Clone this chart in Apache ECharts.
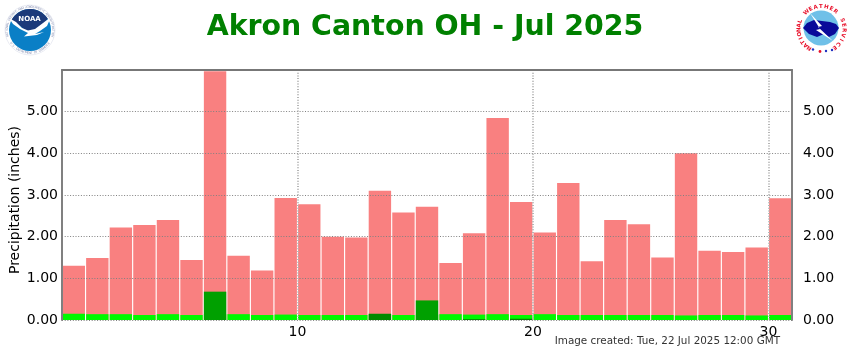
<!DOCTYPE html>
<html>
<head>
<meta charset="utf-8">
<title>Akron Canton OH - Jul 2025</title>
<script src="https://cdn.jsdelivr.net/npm/echarts@6/dist/echarts.min.js"></script>
<style>
  html, body { margin: 0; padding: 0; background: #fff; }
  #chart { width: 850px; height: 350px; }
</style>
</head>
<body>
<div id="chart"></div>
<script>
var days = [1,2,3,4,5,6,7,8,9,10,11,12,13,14,15,16,17,18,19,20,21,22,23,24,25,26,27,28,29,30,31];
// record / highest daily values (pink)
var recordVals = [1.30,1.49,2.22,2.28,2.40,1.44,5.97,1.54,1.19,2.93,2.78,2.00,1.98,3.10,2.58,2.72,1.37,2.08,4.85,2.83,2.10,3.29,1.41,2.40,2.30,1.50,4.00,1.66,1.63,1.74,2.92];
// normal (bright green)
var normalVals = [0.15,0.14,0.14,0.12,0.14,0.12,0.14,0.14,0.12,0.13,0.12,0.12,0.12,0.13,0.12,0.13,0.14,0.13,0.14,0.12,0.14,0.12,0.12,0.12,0.12,0.12,0.11,0.12,0.12,0.11,0.12];
// observed (dark green)
var observedVals = [0,0,0,0,0,0,0.68,0,0,0,0,0,0,0.15,0,0.47,0,0.02,0,0.03,0,0,0,0,0,0,0,0,0,0,0];
var dayTicks = [10,20,30];

var fontName = '"DejaVu Sans", Verdana, sans-serif';
var myChart = echarts.init(document.getElementById('chart'), null, { renderer: 'canvas' });

function toPoints(vals) {
    return vals.map(function (v, i) { return [days[i] - 0.5, v]; });
}

// letters set around a circle, for the two logos
function ringText(str, cx, cy, r, startDeg, endDeg, color, size, weight) {
    var out = [];
    for (var i = 0; i < str.length; i++) {
        var deg = startDeg + (endDeg - startDeg) * i / (str.length - 1);
        var a = deg * Math.PI / 180;
        var flip = endDeg < startDeg;
        out.push({
            type: 'text',
            x: cx + r * Math.sin(a),
            y: cy - r * Math.cos(a),
            rotation: flip ? -a + Math.PI : -a,
            style: { text: str[i], fill: color, font: weight + ' ' + size + 'px ' + fontName, textAlign: 'center', textVerticalAlign: 'middle' }
        });
    }
    return out;
}

// points along a circle arc, clockwise degrees from the top
function arcPts(cx, cy, r, fromDeg, toDeg) {
    var pts = [];
    for (var d = fromDeg; d <= toDeg; d += 6) {
        var a = d * Math.PI / 180;
        pts.push([cx + r * Math.sin(a), cy - r * Math.cos(a)]);
    }
    return pts;
}

var noaaLogo = [
    { type: 'circle', shape: { cx: 30, cy: 30, r: 25 }, style: { fill: '#fff', stroke: '#d5d9e6', lineWidth: 0.5 } },
    { type: 'circle', shape: { cx: 30, cy: 30, r: 21 }, style: { fill: '#0a7fc6' } },
    { type: 'polygon', shape: { points: arcPts(30, 30, 21, -62, 62).concat([[44, 23], [37, 29], [31, 31], [25, 30], [18, 24]]) }, style: { fill: '#1c3a7a' } },
    { type: 'polygon', shape: { points: [[9, 18], [16, 22], [22, 28], [28, 30.5], [35, 29], [43, 23], [51, 17], [47, 26], [40, 31], [35, 34], [44, 32], [37, 35], [24, 36.5], [28, 33], [20, 29], [13, 24]] }, style: { fill: '#fff' } },
    { type: 'text', x: 29.5, y: 19.5, style: { text: 'NOAA', fill: '#fff', font: 'bold 7px ' + fontName, textAlign: 'center', textVerticalAlign: 'middle' } }
].concat(
    ringText('NATIONAL OCEANIC AND ATMOSPHERIC ADMINISTRATION', 30, 30, 23, -105, 105, '#8a93b5', 3, 'normal'),
    ringText('U.S. DEPARTMENT OF COMMERCE', 30, 30, 23, 235, 125, '#8a93b5', 3, 'normal')
);

var nwsLogo = [
    { type: 'circle', shape: { cx: 821, cy: 28, r: 17.5 }, style: { fill: '#6fc0e8' } },
    { type: 'polygon', shape: { points: [[803, 28], [807, 23], [814, 20], [822, 21], [830, 22], [836, 24], [839, 28], [835, 34], [829, 37], [824, 34], [817, 37], [809, 34]] }, style: { fill: '#0a0a9a' } },
    { type: 'polygon', shape: { points: [[810, 13], [822, 26], [818, 27], [833, 41], [816, 30], [820, 29]] }, style: { fill: '#fff' } }
].concat(
    ringText('NATIONAL', 821.5, 29, 22.5, -147, -70, '#e8102a', 5.5, 'bold'),
    ringText('WEATHER', 821.5, 29, 22.5, -42, 39, '#e8102a', 5.5, 'bold'),
    ringText('SERVICE', 821.5, 29, 22.5, 67, 145, '#e8102a', 5.5, 'bold'),
    [
        { type: 'circle', shape: { cx: 813, cy: 49.5, r: 1.2 }, style: { fill: '#2030c0' } },
        { type: 'circle', shape: { cx: 826, cy: 51, r: 1.2 }, style: { fill: '#2030c0' } },
        { type: 'circle', shape: { cx: 820, cy: 51.5, r: 1.4 }, style: { fill: '#e8102a' } },
        { type: 'circle', shape: { cx: 832, cy: 50, r: 1.2 }, style: { fill: '#2030c0' } }
    ]
);

var option = {
    animation: false,
    backgroundColor: '#fff',
    title: {
        text: 'Akron Canton OH - Jul 2025',
        left: 'center',
        top: 9,
        textStyle: { color: '#008000', fontFamily: fontName, fontSize: 28.4, fontWeight: 'bold' }
    },
    grid: { left: 62, right: 58, top: 70, bottom: 30, outerBoundsMode: 'none' },
    graphic: noaaLogo.concat(nwsLogo, [
        { type: 'text', x: 15, y: 200, rotation: Math.PI / 2, style: { text: 'Precipitation (inches)', fill: '#000', font: '14px ' + fontName, textAlign: 'center', textVerticalAlign: 'middle' } },
        { type: 'text', x: 780, y: 341, style: { text: 'Image created: Tue, 22 Jul 2025 12:00 GMT', fill: '#333', font: '10.4px ' + fontName, textAlign: 'right', textVerticalAlign: 'middle' } }
    ]),
    xAxis: [
        {
            type: 'value',
            min: 0,
            max: 31,
            interval: 10,
            z: 4,
            axisTick: { show: false },
            axisLine: { show: false },
            axisLabel: {
                color: '#000', fontFamily: fontName, fontSize: 14, margin: 5,
                formatter: function (v) { return dayTicks.indexOf(v) >= 0 ? String(v) : ''; }
            },
            splitLine: { show: true, showMinLine: false, showMaxLine: false, lineStyle: { color: '#b4b4b4', type: [1, 1.7], width: 2 } }
        },
        {
            type: 'value',
            position: 'top',
            min: 0,
            max: 31,
            z: 4,
            axisTick: { show: false },
            axisLabel: { show: false },
            splitLine: { show: false },
            axisLine: { show: true, onZero: false, lineStyle: { color: '#777', width: 2 } }
        }
    ],
    yAxis: [
        {
            type: 'value',
            min: 0,
            max: 6,
            interval: 1,
            position: 'left',
            z: 4,
            axisTick: { show: false },
            axisLine: { show: true, onZero: false, lineStyle: { color: '#808080', width: 2 } },
            axisLabel: {
                color: '#000', fontFamily: fontName, fontSize: 14, margin: 4, padding: [5, 0, 0, 0],
                formatter: function (v) { return v >= 6 ? '' : v.toFixed(2); }
            },
            splitLine: { show: true, showMaxLine: false, lineStyle: { color: '#808080', type: [1, 1.7], width: 1 } }
        },
        {
            type: 'value',
            min: 0,
            max: 6,
            interval: 1,
            position: 'right',
            z: 4,
            axisTick: { show: false },
            axisLine: { show: true, onZero: false, lineStyle: { color: '#808080', width: 2 } },
            axisLabel: {
                color: '#000', fontFamily: fontName, fontSize: 14, margin: 11, padding: [5, 0, 0, 0],
                formatter: function (v) { return v >= 6 ? '' : v.toFixed(2); }
            },
            splitLine: { show: false }
        }
    ],
    series: [
        {
            name: 'Record',
            type: 'bar',
            barWidth: 22.4,
            barGap: '-100%',
            itemStyle: { color: '#f98080' },
            data: toPoints(recordVals)
        },
        {
            name: 'Normal',
            type: 'bar',
            barWidth: 22.4,
            barGap: '-100%',
            itemStyle: { color: '#00f800' },
            data: toPoints(normalVals)
        },
        {
            name: 'Observed',
            type: 'bar',
            barWidth: 22.4,
            barGap: '-100%',
            itemStyle: {
                color: function (params) {
                    return params.value[1] < 0.2 ? '#008a00' : '#00a000';
                }
            },
            data: toPoints(observedVals)
        }
    ]
};

myChart.setOption(option);
</script>
</body>
</html>
